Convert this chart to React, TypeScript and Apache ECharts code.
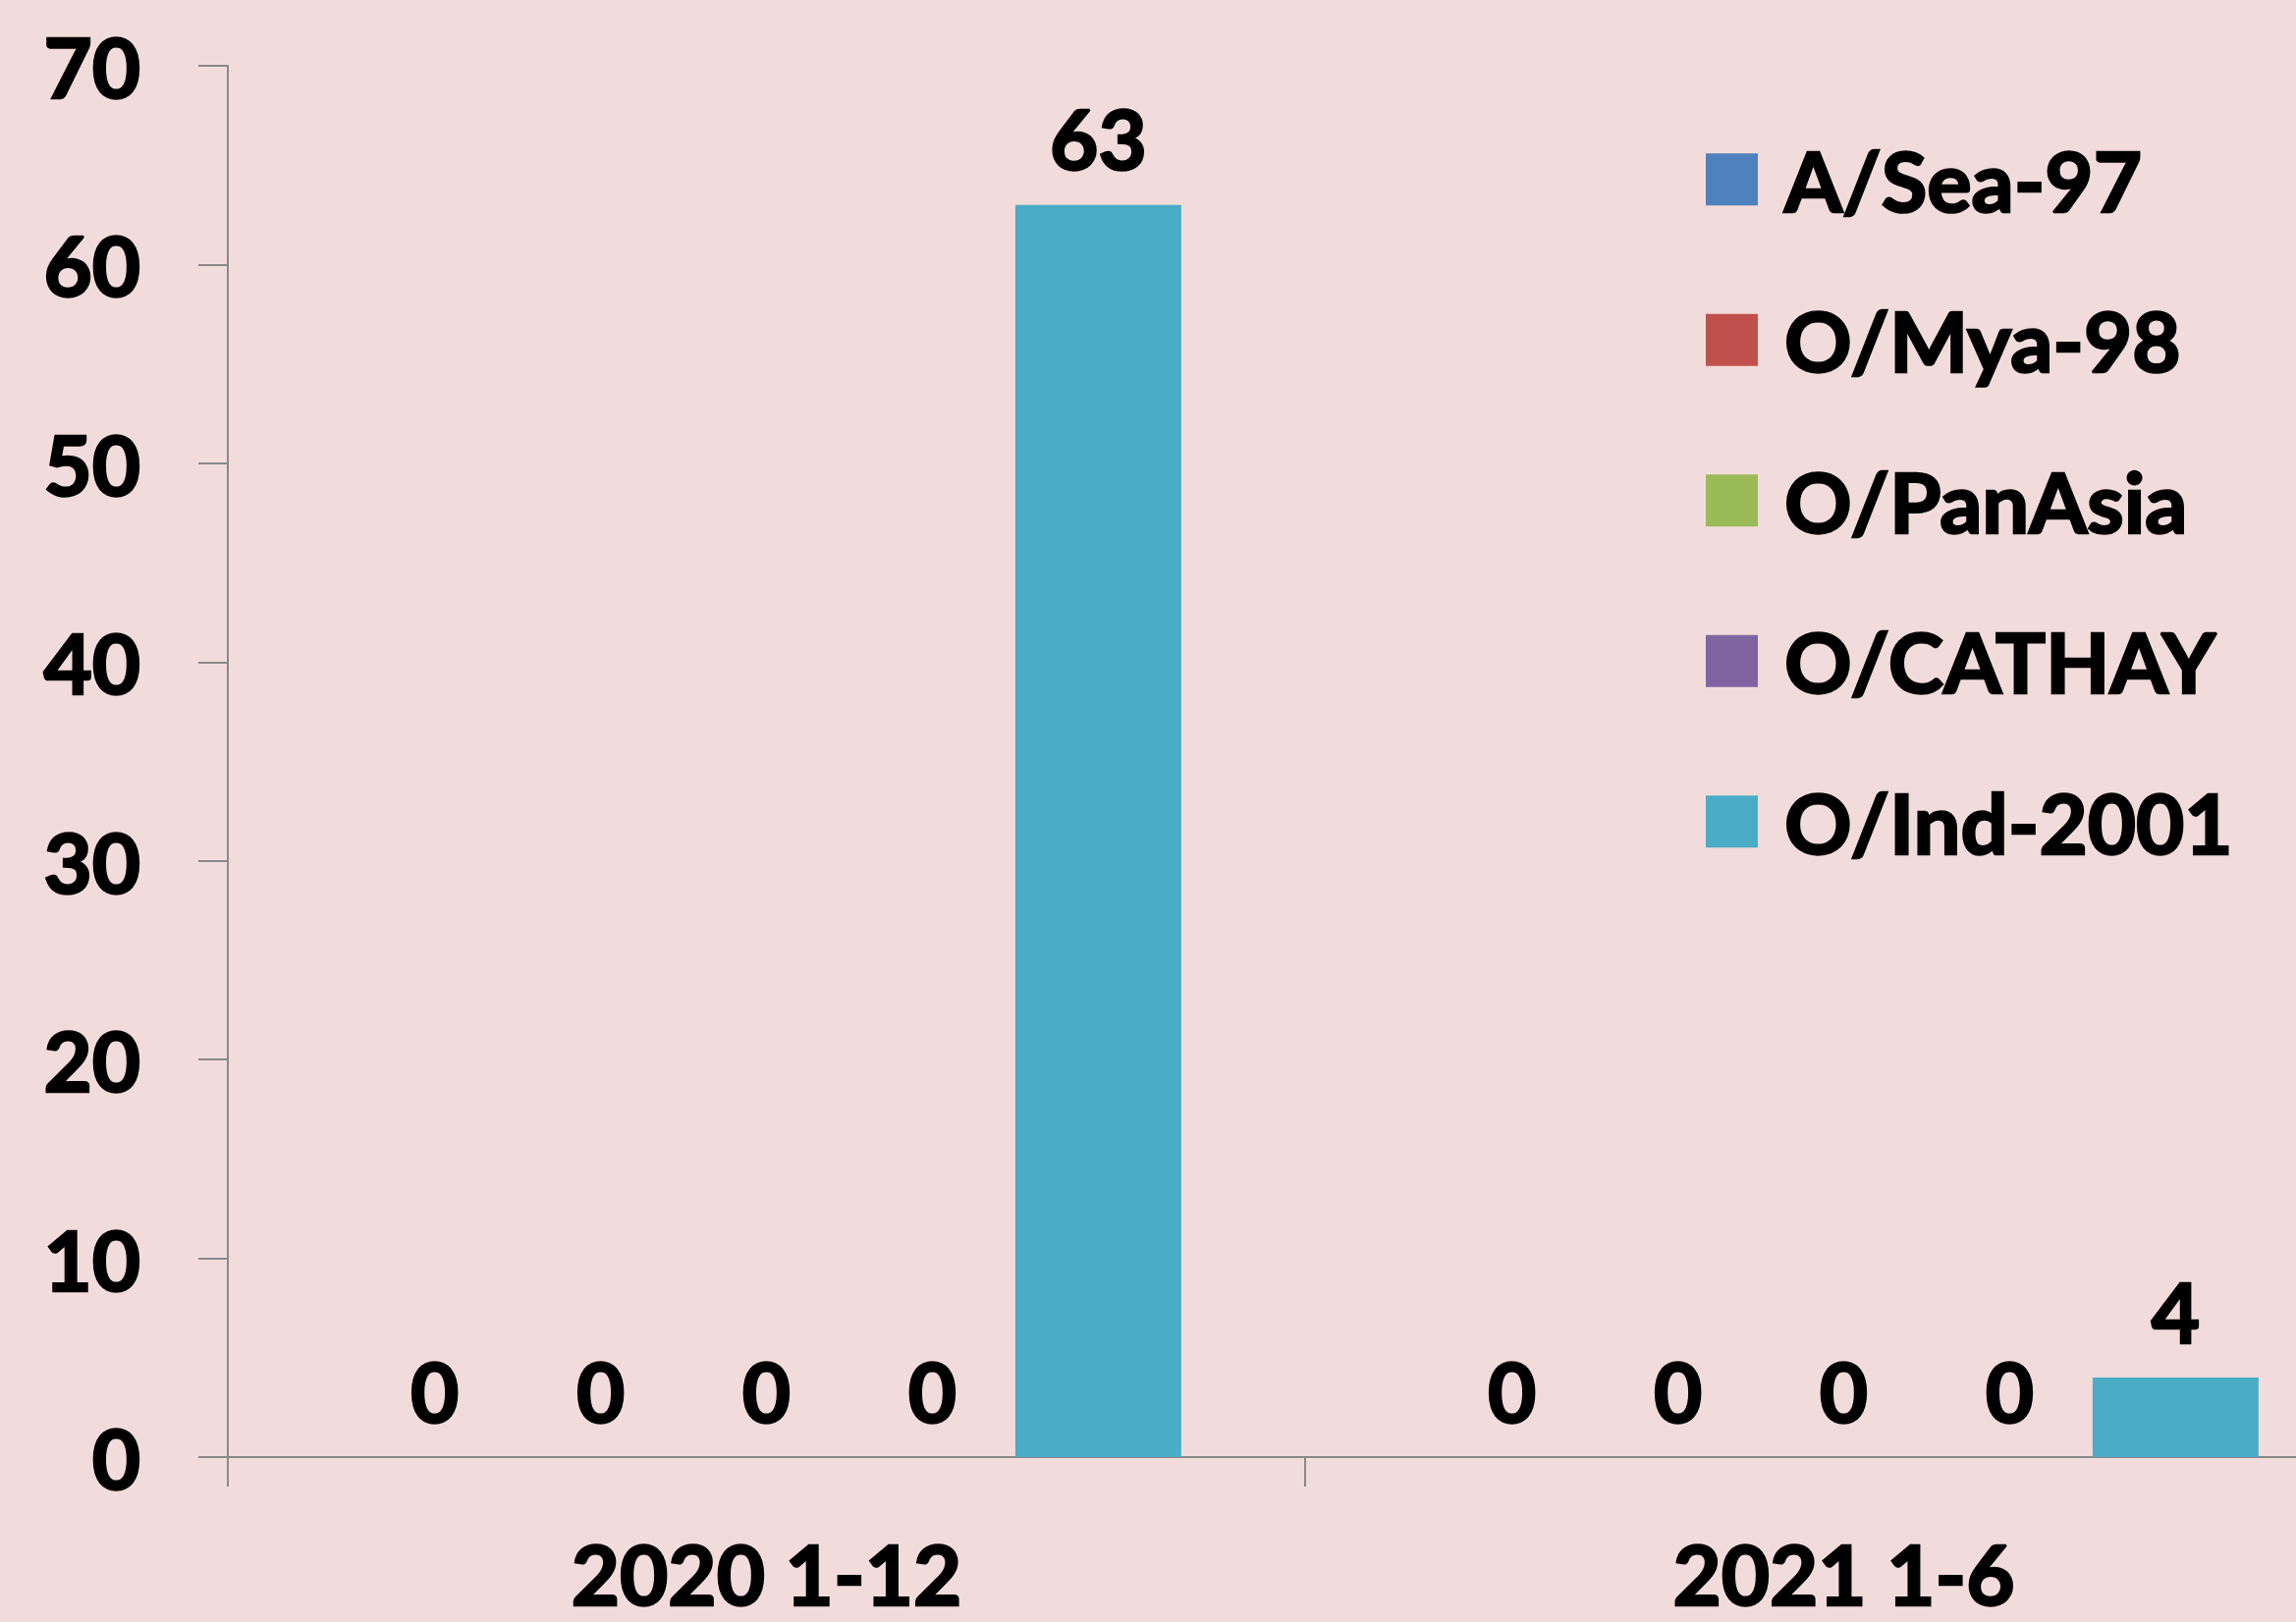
import React, { useEffect, useRef } from "react";
import * as echarts from "echarts";

const categories = ["2020 1-12", "2021 1-6"];
const seriesNames = ["A/Sea-97", "O/Mya-98", "O/PanAsia", "O/CATHAY", "O/Ind-2001"];
const aSea97 = [0, 0];
const oMya98 = [0, 0];
const oPanAsia = [0, 0];
const oCathay = [0, 0];
const oInd2001 = [63, 4];
const yTicks = [0, 10, 20, 30, 40, 50, 60, 70];

const colors = ["#4F81BD", "#C0504D", "#9BBB59", "#8064A2", "#4BACC6"];

const FONT = "Lato";
const FS = 85;
const boldText = {
  fontFamily: FONT,
  fontWeight: "bold",
  fontSize: FS,
  color: "#000",
  textBorderColor: "#000",
  textBorderWidth: 2.5,
};

export default function App() {
  const ref = useRef<HTMLDivElement>(null);
  useEffect(() => {
    document.body.style.margin = "0";
    const chart = echarts.init(ref.current!, null, { renderer: "svg" });
    const values = [aSea97, oMya98, oPanAsia, oCathay, oInd2001];
    chart.setOption({
      animation: false,
      backgroundColor: "#F2DCDB",
      color: colors,
      textStyle: { fontFamily: FONT },
      grid: {
        left: 232,
        right: 0,
        top: 67,
        bottom: 168,
        outerBoundsMode: "none",
        containLabel: false,
      },
      legend: {
        orient: "vertical",
        left: 1732,
        top: 134,
        icon: "rect",
        itemWidth: 53,
        itemHeight: 53,
        itemGap: 76,
        data: seriesNames,
        textStyle: {
          ...boldText,
          padding: [0, 0, 0, 22],
        },
      },
      xAxis: {
        type: "category",
        data: categories,
        axisLine: { lineStyle: { color: "#898989", width: 2 } },
        axisTick: { show: true, length: 30, lineStyle: { color: "#898989", width: 2 } },
        axisLabel: {
          ...boldText,
          lineHeight: 60,
          margin: 88,
        },
        splitLine: { show: false },
      },
      yAxis: {
        type: "value",
        min: yTicks[0],
        max: yTicks[yTicks.length - 1],
        interval: yTicks[1] - yTicks[0],
        axisLine: { show: true, lineStyle: { color: "#898989", width: 2 } },
        axisTick: { show: true, length: 30, lineStyle: { color: "#898989", width: 2 } },
        axisLabel: {
          ...boldText,
          margin: 89,
        },
        splitLine: { show: false },
      },
      series: seriesNames.map((name, i) => ({
        name,
        type: "bar",
        data: values[i],
        barGap: "0%",
        barCategoryGap: "23%",
        label: {
          show: true,
          position: "top",
          distance: 26,
          ...boldText,
        },
      })),
    });
    return () => chart.dispose();
  }, []);
  return (
    <div style={{ width: 2338, height: 1652, overflow: "hidden", position: "relative" }}>
      <div ref={ref} style={{ width: 2426, height: 1652 }} />
    </div>
  );
}
